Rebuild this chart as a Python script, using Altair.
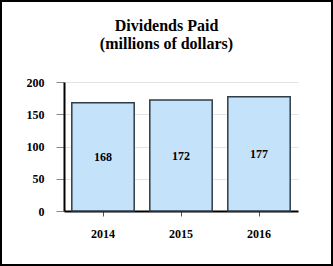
import altair as alt
import pandas as pd

years = ["2014", "2015", "2016"]
dividends = [168, 172, 177]
y_ticks = [0, 50, 100, 150, 200]

df = pd.DataFrame({"year": years, "value": dividends})
df["mid"] = df["value"] / 2

serif = "'Liberation Serif', 'Times New Roman', 'DejaVu Serif', serif"

x_enc = alt.X("year:N", sort=years,
              scale=alt.Scale(paddingInner=0.2, paddingOuter=0.1),
              axis=alt.Axis(title=None, labelAngle=0, labelFont=serif, labelFontSize=12,
                            labelFontWeight="bold", labelColor="black", labelPadding=12,
                            tickSize=5, tickColor="#555555", domainColor="black",
                            domainWidth=2, grid=False))

y_axis = alt.Axis(title=None, values=y_ticks, labelFont=serif,
                  labelFontSize=12, labelFontWeight="bold", labelColor="black",
                  labelOverlap=False, labelPadding=12, tickSize=8,
                  tickColor="#888888", domainColor="black", domainWidth=2,
                  gridColor="#E3E3E3", gridWidth=1)
y_scale = alt.Scale(domain=[0, 200])

bars = alt.Chart(df).mark_bar(fill="#C4E3FB", stroke="#2E3D48", strokeWidth=1.5).encode(
    x=x_enc,
    y=alt.Y("value:Q", scale=y_scale, axis=y_axis),
)

labels = alt.Chart(df).mark_text(font=serif, fontSize=12, fontWeight="bold", color="black").encode(
    x=x_enc,
    y=alt.Y("mid:Q", scale=y_scale, axis=y_axis),
    text=alt.Text("value:Q"),
)

frame = alt.Chart(df.head(1)).mark_rect(fill=None, stroke="black", strokeWidth=2).encode(
    x=alt.value(-63), x2=alt.value(268), y=alt.value(-81), y2=alt.value(183)
)

chart = alt.layer(bars, labels, frame).properties(
    width=234, height=129,
    title=alt.TitleParams(["Dividends Paid", "(millions of dollars)"], font=serif,
                          fontSize=16, fontWeight="bold", color="black", lineHeight=18,
                          anchor="middle", frame="bounds", offset=-52),
    autosize=alt.AutoSizeParams(type="pad"),
    padding=0,
).configure(background="white").configure_view(stroke=None)

chart.save("out.html", embed_options={"renderer": "svg", "actions": False})
